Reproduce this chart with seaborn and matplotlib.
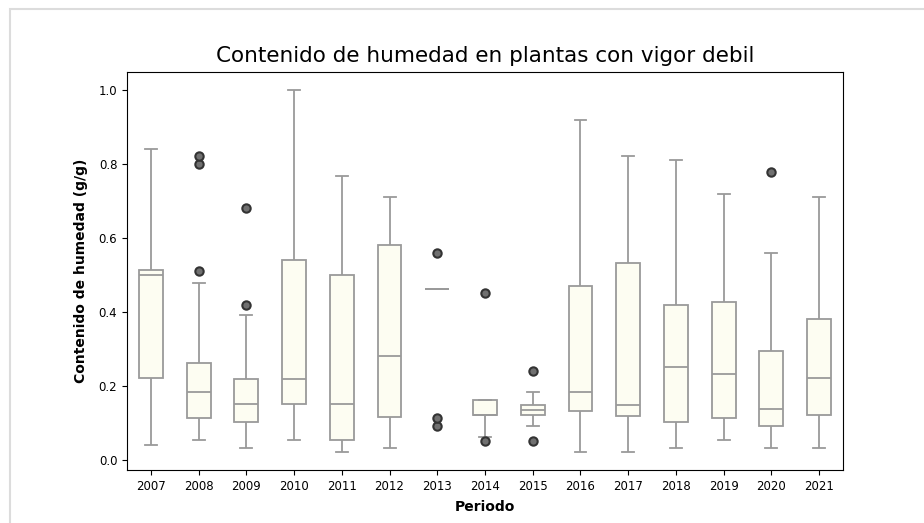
import matplotlib
matplotlib.use("Agg")
import matplotlib.pyplot as plt
from matplotlib.patches import Rectangle
import pandas as pd
import seaborn as sns

# Moisture content samples (g/g) per sampling year, low-vigour plants
periodos = ["2007", "2008", "2009", "2010", "2011", "2012", "2013", "2014",
            "2015", "2016", "2017", "2018", "2019", "2020", "2021"]

h2007 = [0.042, 0.12, 0.221, 0.40, 0.50, 0.505, 0.514, 0.70, 0.842]
h2008 = [0.054, 0.08, 0.10, 0.11, 0.113, 0.14, 0.16, 0.17, 0.183, 0.20,
         0.22, 0.24, 0.262, 0.478, 0.511, 0.801, 0.821]
h2009 = [0.032, 0.06, 0.08, 0.102, 0.12, 0.14, 0.151, 0.17, 0.20, 0.22,
         0.392, 0.419, 0.682]
h2010 = [0.054, 0.10, 0.151, 0.18, 0.22, 0.40, 0.541, 0.80, 1.0]
h2011 = [0.022, 0.04, 0.054, 0.10, 0.151, 0.30, 0.50, 0.65, 0.769]
h2012 = [0.032, 0.08, 0.116, 0.20, 0.281, 0.45, 0.58, 0.65, 0.711]
h2013 = [0.091, 0.113, 0.462, 0.462, 0.462, 0.462, 0.462, 0.462, 0.559]
h2014 = [0.052, 0.062, 0.121, 0.121, 0.121, 0.14, 0.161, 0.161, 0.451]
h2015 = [0.052, 0.091, 0.122, 0.13, 0.136, 0.14, 0.15, 0.183, 0.241]
h2016 = [0.022, 0.08, 0.133, 0.16, 0.183, 0.30, 0.471, 0.70, 0.919]
h2017 = [0.022, 0.08, 0.118, 0.13, 0.150, 0.35, 0.532, 0.70, 0.822]
h2018 = [0.032, 0.07, 0.102, 0.18, 0.252, 0.33, 0.419, 0.60, 0.812]
h2019 = [0.053, 0.08, 0.113, 0.17, 0.232, 0.33, 0.426, 0.55, 0.720]
h2020 = [0.032, 0.06, 0.091, 0.11, 0.137, 0.20, 0.294, 0.56, 0.779]
h2021 = [0.032, 0.08, 0.123, 0.17, 0.221, 0.30, 0.381, 0.55, 0.710]

series = [h2007, h2008, h2009, h2010, h2011, h2012, h2013, h2014,
          h2015, h2016, h2017, h2018, h2019, h2020, h2021]

df = pd.DataFrame(
    [(p, v) for p, vals in zip(periodos, series) for v in vals],
    columns=["Periodo", "Humedad"],
)

fig = plt.figure(figsize=(9.24, 5.23), dpi=100)
ax = fig.add_axes([127 / 924, 1 - 470 / 523, (843 - 127) / 924, (470 - 72) / 523])

sns.boxplot(
    data=df, x="Periodo", y="Humedad", order=periodos, ax=ax,
    color="#FDFDF2", saturation=1, width=0.5,
    linecolor="#9a9a9a", linewidth=1.3,
    flierprops=dict(marker="o", markerfacecolor="#707070",
                    markeredgecolor="#333333", markersize=6,
                    markeredgewidth=1.5),
)

ax.set_title("Contenido de humedad en plantas con vigor debil", fontsize=15.5,
             pad=7)
ax.set_xlabel("Periodo", fontsize=10, fontweight="bold", labelpad=5)
ax.set_ylabel("Contenido de humedad (g/g)", fontsize=10, fontweight="bold",
              labelpad=8)
ax.tick_params(axis="both", labelsize=8.5)
ax.set_yticks([0.0, 0.2, 0.4, 0.6, 0.8, 1.0])

# light frame around the figure
fig.patches.append(Rectangle((9.5 / 924, -0.1), 1.2, 1.1 - 8.5 / 523,
                             transform=fig.transFigure, fill=False,
                             edgecolor="#dcdcdc", linewidth=1.5))

fig.savefig("out.png", dpi=100)
